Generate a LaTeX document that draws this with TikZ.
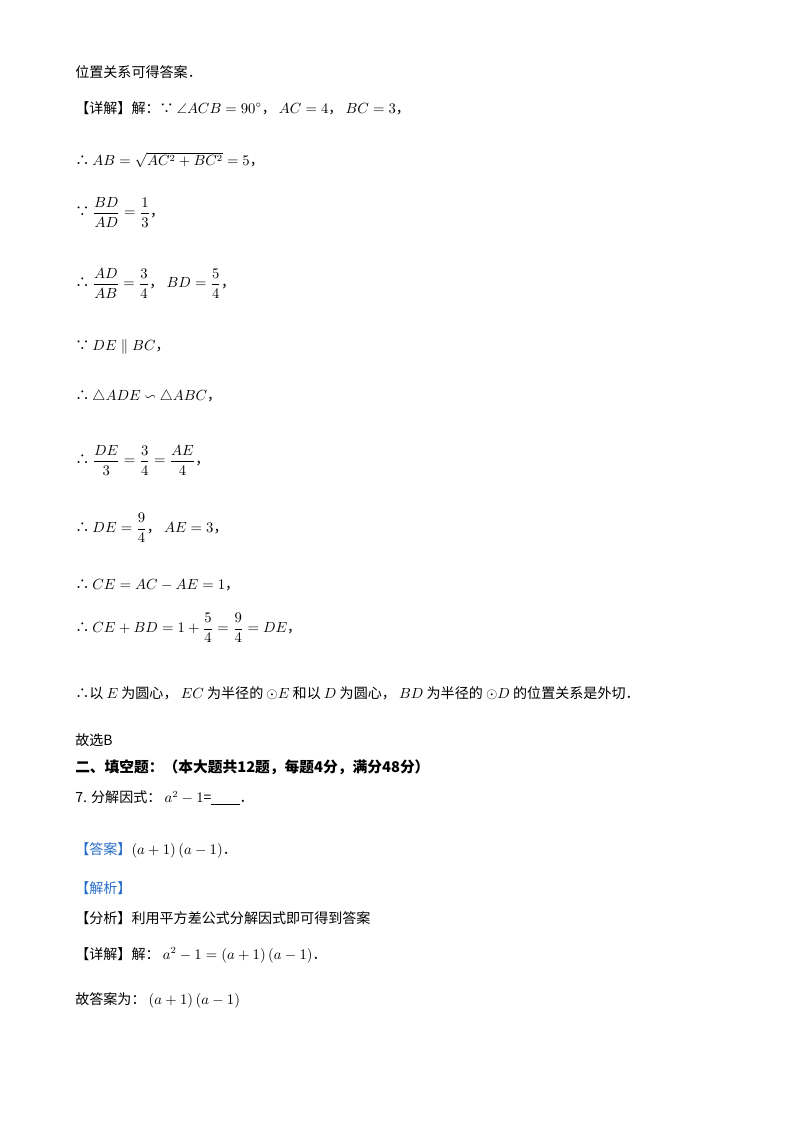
\documentclass[tikz,border=0pt]{standalone}
\usepackage{amsmath}
\usepackage{amssymb}
\usepackage{fontspec}
\setmainfont{Noto Sans CJK SC}
\usetikzlibrary{positioning}
\definecolor{answerBlue}{RGB}{40, 110, 200}
\tikzset{
  line/.style={anchor=west, inner sep=0pt, font=\fontsize{10.5}{13}\selectfont},
  tag/.style={text=answerBlue}
}
\begin{document}
\begin{tikzpicture}[x=0.02625cm, y=-0.02625cm]
  \useasboundingbox (0,0) rectangle (800,1132);
  % solution of the previous problem
  \node[line] (l1) at (75,72) {位置关系可得答案．};
  \node[line] (l2) at (75,108) {【详解】解：∵ $\angle ACB=90^\circ$， $AC=4$， $BC=3$，};
  \node[line] (l3) at (75,160) {∴ $AB=\sqrt{AC^2+BC^2}=5$，};
  \node[line] (l4) at (75,212) {∵ $\dfrac{BD}{AD}=\dfrac{1}{3}$，};
  \node[line] (l5) at (75,283) {∴ $\dfrac{AD}{AB}=\dfrac{3}{4}$， $BD=\dfrac{5}{4}$，};
  \node[line] (l6) at (75,347) {∵ $DE\parallel BC$，};
  \node[line] (l7) at (75,397) {∴ $\triangle ADE\backsim\triangle ABC$，};
  \node[line] (l8) at (75,460) {∴ $\dfrac{DE}{3}=\dfrac{3}{4}=\dfrac{AE}{4}$，};
  \node[line] (l9) at (75,528) {∴ $DE=\dfrac{9}{4}$， $AE=3$，};
  \node[line] (l10) at (75,585) {∴ $CE=AC-AE=1$，};
  \node[line] (l11) at (75,628) {∴ $CE+BD=1+\dfrac{5}{4}=\dfrac{9}{4}=DE$，};
  \node[line] (l12) at (75,693) {∴以 $E$ 为圆心， $EC$ 为半径的 $\odot E$ 和以 $D$ 为圆心， $BD$ 为半径的 $\odot D$ 的位置关系是外切．};
  \node[line] (l13) at (75,740) {故选B};
  % section two
  \node[line, font=\fontsize{11}{13}\selectfont\bfseries] (l14) at (75,767) {二、填空题：（本大题共12题，每题4分，满分48分）};
  \node[line] (l15) at (75,798) {7. 分解因式： $a^2-1$=\underline{\hspace{2em}}．};
  \node[line] (l16) at (75,850) {\textcolor{answerBlue}{【答案】}$\left(a+1\right)\left(a-1\right)$．};
  \node[line, tag] (l17) at (75,888) {【解析】};
  \node[line] (l18) at (75,918) {【分析】利用平方差公式分解因式即可得到答案};
  \node[line] (l19) at (75,955) {【详解】解： $a^2-1=\left(a+1\right)\left(a-1\right)$．};
  \node[line] (l20) at (75,1000) {故答案为： $\left(a+1\right)\left(a-1\right)$};
\end{tikzpicture}
\end{document}
